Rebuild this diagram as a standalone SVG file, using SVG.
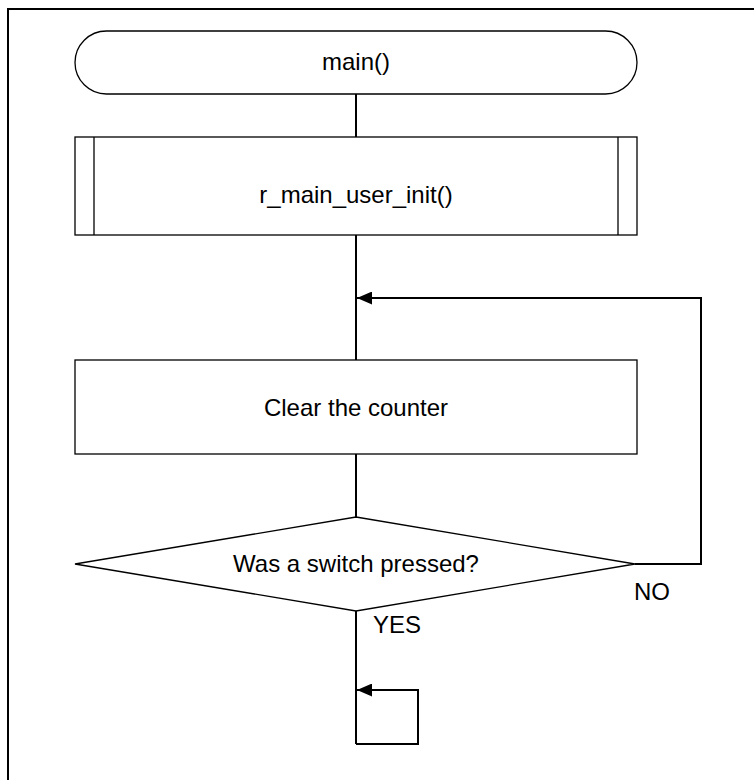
<svg xmlns="http://www.w3.org/2000/svg" width="754" height="780" viewBox="0 0 754 780">
<style>
.shape{fill:#fff;stroke:#000;stroke-width:1.3}
.line{fill:none;stroke:#000;stroke-width:2}
.t{font-family:"Liberation Sans",Arial,sans-serif;font-size:24px;fill:#000}
.c{text-anchor:middle}
</style>
<defs>
<marker id="arr" markerWidth="15" markerHeight="13" refX="15" refY="6.5" orient="auto" markerUnits="userSpaceOnUse">
<path d="M0,0 L15,6.5 L0,13 Z" fill="#000"/>
</marker>
</defs>
<rect x="0" y="0" width="754" height="780" fill="#fff"/>
<rect x="8" y="9" width="800" height="800" fill="none" stroke="#000" stroke-width="2"/>
<g id="connectors">
<line class="line" x1="356" y1="94" x2="356" y2="137"/>
<line class="line" x1="356" y1="235" x2="356" y2="360"/>
<line class="line" x1="356" y1="454" x2="356" y2="517"/>
<polyline class="line" points="635,564 701,564 701,298 357,298" marker-end="url(#arr)"/>
<line class="line" x1="356" y1="611" x2="356" y2="744"/>
<polyline class="line" points="356,744 418,744 418,690 357,690" marker-end="url(#arr)"/>
</g>
<g id="start">
<rect class="shape" x="75" y="31" width="562" height="63" rx="31.5" ry="31.5"/>
<text class="t c" x="356" y="70">main()</text>
</g>
<g id="init">
<rect class="shape" x="75" y="137" width="562" height="98"/>
<line class="shape" x1="94" y1="137" x2="94" y2="235"/>
<line class="shape" x1="618" y1="137" x2="618" y2="235"/>
<text class="t c" x="356" y="203">r_main_user_init()</text>
</g>
<g id="clear">
<rect class="shape" x="75" y="360" width="562" height="94"/>
<text class="t c" x="356" y="416">Clear the counter</text>
</g>
<g id="decision">
<polygon class="shape" points="356,517 635,564 356,611 75,564"/>
<text class="t c" x="356" y="572">Was a switch pressed?</text>
<text class="t" x="634" y="600">NO</text>
<text class="t" x="373" y="633">YES</text>
</g>
</svg>
